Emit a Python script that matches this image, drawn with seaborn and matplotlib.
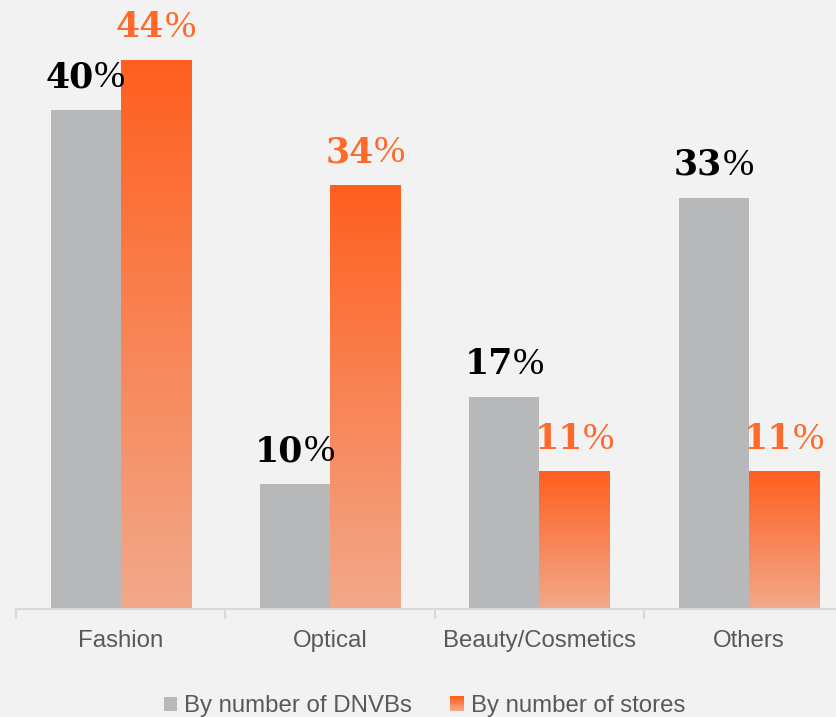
import numpy as np
import pandas as pd
import seaborn as sns
import matplotlib.pyplot as plt
from matplotlib.colors import to_rgb
from matplotlib.patches import Rectangle, Patch
from matplotlib.legend_handler import HandlerBase

categories = ["Fashion", "Optical", "Beauty/Cosmetics", "Others"]
series = ["By number of DNVBs", "By number of stores"]
dnvbs = [40, 10, 17, 33]
stores = [44, 34, 11, 11]

BG = "#f2f2f2"
GRAY = "#b7b8b9"
ORANGE_TOP = "#ff5f1f"
ORANGE_BOTTOM = "#f2a98b"
ORANGE_TEXT = "#ff6a2a"


def gradient_colors(n):
    top = np.array(to_rgb(ORANGE_TOP))
    bot = np.array(to_rgb(ORANGE_BOTTOM))
    t = np.linspace(0, 1, n)[:, None]
    return bot * (1 - t) + top * t  # bottom -> top


class GradientHandler(HandlerBase):
    def create_artists(self, legend, orig_handle, xdescent, ydescent,
                       width, height, fontsize, trans):
        cols = gradient_colors(12)
        arts = []
        h = height / len(cols)
        for i, c in enumerate(cols):
            r = Rectangle((-xdescent, -ydescent + i * h), width, h * 1.05,
                          facecolor=c, edgecolor="none", transform=trans)
            arts.append(r)
        return arts


rows = []
for c, a, b in zip(categories, dnvbs, stores):
    rows.append([c, series[0], a])
    rows.append([c, series[1], b])
df = pd.DataFrame(rows, columns=["category", "series", "value"])

sns.set_theme(style="white")
plt.rcParams["font.family"] = ["Liberation Sans", "DejaVu Sans"]

fig = plt.figure(figsize=(8.37, 7.17), dpi=100, facecolor=BG)
ax = fig.add_axes([16 / 837, 108 / 717, 1 - 16 / 837, 609 / 717])
ax.set_facecolor(BG)

sns.barplot(data=df, x="category", y="value", hue="series", order=categories,
            hue_order=series, palette=[GRAY, ORANGE_TOP], width=0.67, gap=0,
            saturation=1, errorbar=None, legend=False, linewidth=0, ax=ax)

# gradient fill on orange bars
grad = gradient_colors(256)[:, None, :]
for bar in ax.containers[1]:
    x0, w, h = bar.get_x(), bar.get_width(), bar.get_height()
    bar.set_facecolor("none")
    ax.imshow(grad, extent=[x0, x0 + w, 0, h], origin="lower",
              aspect="auto", zorder=bar.get_zorder(), interpolation="bilinear")

for s in ["top", "right", "left"]:
    ax.spines[s].set_visible(False)
ax.spines["bottom"].set_color("#d9d9d9")
ax.spines["bottom"].set_linewidth(1.5)
ax.set_yticks([])
ax.set_xlabel("")
ax.set_ylabel("")
ax.set_xticks(range(len(categories)))
ax.set_xticklabels(categories, fontsize=17.3, color="#595959")
ax.tick_params(axis="x", which="major", length=0, pad=15)
ax.set_xticks([i - 0.5 for i in range(len(categories) + 1)], minor=True)
ax.tick_params(axis="x", which="minor", bottom=True, length=7, width=1.5,
               color="#d9d9d9", direction="out")

ax.set_xlim(-0.5, -0.5 + 821 / 209.4)
ax.set_ylim(0, 48.84)

# value labels: bold digits + lighter percent sign
labels = []
for cont, vals, col in [(ax.containers[0], dnvbs, "black"),
                        (ax.containers[1], stores, ORANGE_TEXT)]:
    for bar, v in zip(cont, vals):
        xc = bar.get_x() + bar.get_width() / 2
        t1 = ax.annotate(str(v), xy=(xc, v), xytext=(0, 16.5),
                         textcoords="offset points", ha="right", va="baseline",
                         fontsize=25, fontweight="bold", color=col,
                         family="DejaVu Serif", annotation_clip=False)
        t2 = ax.annotate("%", xy=(xc, v), xytext=(0, 16.5),
                         textcoords="offset points", ha="left", va="baseline",
                         fontsize=27, color=col, family="Liberation Serif",
                         annotation_clip=False)
        labels.append((t1, t2))

fig.canvas.draw()
r = fig.canvas.get_renderer()
for t1, t2 in labels:
    w1 = t1.get_window_extent(r).width
    w2 = t2.get_window_extent(r).width
    dx = (w1 - w2) / 2 * 72 / fig.dpi
    t1.xyann = (dx, 16.5)
    t2.xyann = (dx, 16.5)

handles = [Patch(facecolor=GRAY, edgecolor="none"), Patch(facecolor=ORANGE_TOP)]
fig.legend(handles, series, loc="center", bbox_to_anchor=(0.507, 0.015),
           ncol=2, frameon=False, fontsize=17.3, labelcolor="#595959",
           handlelength=0.55, handleheight=0.55, handletextpad=0.3,
           columnspacing=1.6, handler_map={handles[1]: GradientHandler()})

fig.savefig("out.png", dpi=100, facecolor=BG)
